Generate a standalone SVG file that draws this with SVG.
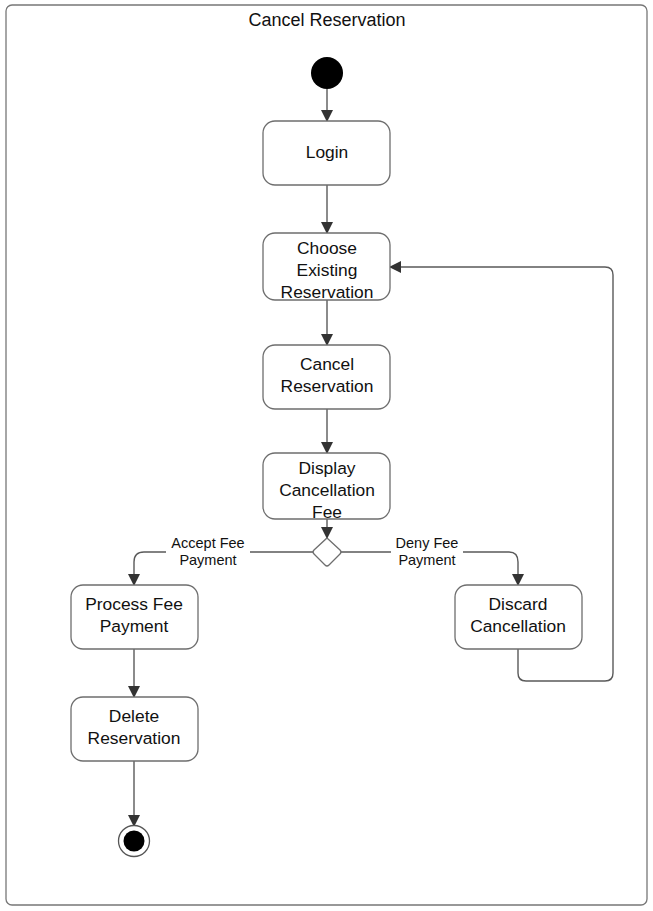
<svg xmlns="http://www.w3.org/2000/svg" width="653" height="911" viewBox="0 0 653 911">
<style>
.frame{fill:#fff;stroke:#777;stroke-width:1.3}
.box{fill:#fff;stroke:#6e6e6e;stroke-width:1.3}
.t{font-family:"Liberation Sans",Arial,sans-serif;font-size:17.4px;fill:#111;text-anchor:middle}
.l{font-family:"Liberation Sans",Arial,sans-serif;font-size:14.5px;fill:#111;text-anchor:middle}
.c{fill:none;stroke:#5a5a5a;stroke-width:1.4}
</style>
<defs>
<marker id="ah" viewBox="0 0 12 12" refX="11" refY="6" markerWidth="12" markerHeight="12" markerUnits="userSpaceOnUse" orient="auto">
<path d="M0,0 L12,6 L0,12 Z" fill="#333"/>
</marker>
</defs>
<rect class="frame" x="6" y="5" width="641" height="900" rx="6"/>
<text class="t" x="327" y="26" style="font-size:18px">Cancel Reservation</text>

<g id="connectors">
<path class="c" d="M327,89 V121" marker-end="url(#ah)"/>
<path class="c" d="M327,185 V233" marker-end="url(#ah)"/>
<path class="c" d="M327,300 V345" marker-end="url(#ah)"/>
<path class="c" d="M327,409 V453" marker-end="url(#ah)"/>
<path class="c" d="M327,519 V538" marker-end="url(#ah)"/>
<path class="c" d="M313,552 H144 Q134,552 134,562 V585" marker-end="url(#ah)"/>
<path class="c" d="M341,552 H509 Q518,552 518,562 V585" marker-end="url(#ah)"/>
<path class="c" d="M134,649 V697" marker-end="url(#ah)"/>
<path class="c" d="M134,761 V826" marker-end="url(#ah)"/>
<path class="c" d="M518,649 V673 Q518,681 526,681 H605 Q613,681 613,673 V275 Q613,267 605,267 H390" marker-end="url(#ah)"/>
<rect x="166" y="535" width="84" height="34" fill="#fff"/>
<text class="l" x="208" y="548">Accept Fee</text>
<text class="l" x="208" y="565">Payment</text>
<rect x="391" y="535" width="72" height="34" fill="#fff"/>
<text class="l" x="427" y="548">Deny Fee</text>
<text class="l" x="427" y="565">Payment</text>
</g>

<g id="start"><circle cx="327" cy="73" r="16" fill="#000"/></g>

<g id="login">
<rect class="box" x="263" y="121" width="127" height="64" rx="12"/>
<text class="t" x="327" y="158">Login</text>
</g>

<g id="choose">
<rect class="box" x="263" y="233" width="127" height="67" rx="12"/>
<text class="t" x="327" y="254">Choose</text>
<text class="t" x="327" y="276">Existing</text>
<text class="t" x="327" y="298">Reservation</text>
</g>

<g id="cancel">
<rect class="box" x="263" y="345" width="127" height="64" rx="12"/>
<text class="t" x="327" y="370">Cancel</text>
<text class="t" x="327" y="392">Reservation</text>
</g>

<g id="display">
<rect class="box" x="263" y="453" width="127" height="66" rx="12"/>
<text class="t" x="327" y="474">Display</text>
<text class="t" x="327" y="496">Cancellation</text>
<text class="t" x="327" y="518">Fee</text>
</g>

<g id="decision">
<path class="box" d="M327,538 L340,550 Q342,552 340,554 L329,565 Q327,567 325,565 L314,554 Q312,552 314,550 Z"/>
</g>

<g id="process">
<rect class="box" x="71" y="585" width="127" height="64" rx="12"/>
<text class="t" x="134" y="610">Process Fee</text>
<text class="t" x="134" y="632">Payment</text>
</g>

<g id="discard">
<rect class="box" x="455" y="585" width="127" height="64" rx="12"/>
<text class="t" x="518" y="610">Discard</text>
<text class="t" x="518" y="632">Cancellation</text>
</g>

<g id="delete">
<rect class="box" x="71" y="697" width="127" height="64" rx="12"/>
<text class="t" x="134" y="722">Delete</text>
<text class="t" x="134" y="744">Reservation</text>
</g>

<g id="end">
<circle cx="134" cy="841" r="15.5" fill="#fff" stroke="#555" stroke-width="1.3"/>
<circle cx="134" cy="841" r="10.5" fill="#000"/>
</g>
</svg>
